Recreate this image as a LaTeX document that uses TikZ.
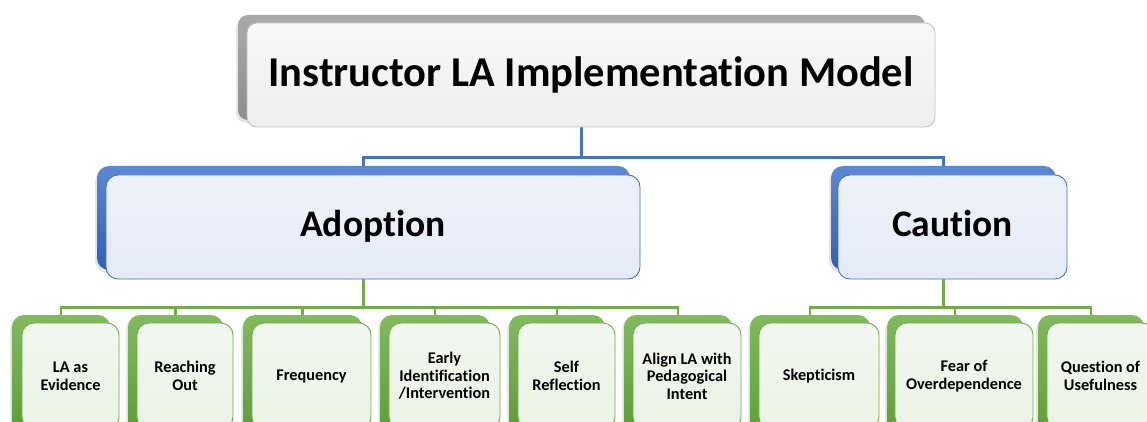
\documentclass[tikz,border=0pt]{standalone}
\usepackage{fontspec}
\setmainfont{Carlito}[Ligatures=NoCommon]
\usetikzlibrary{shadows}
\definecolor{grayBackT}{HTML}{AAAAAA}
\definecolor{grayBackB}{HTML}{8E8E8E}
\definecolor{grayFrontT}{HTML}{F8F8F8}
\definecolor{grayFrontB}{HTML}{EEEEEE}
\definecolor{grayEdge}{HTML}{BEBEBE}
\definecolor{blueBackT}{HTML}{5C87D2}
\definecolor{blueBackB}{HTML}{3060BA}
\definecolor{blueFrontT}{HTML}{EDF1F9}
\definecolor{blueFrontB}{HTML}{E5EBF6}
\definecolor{blueEdge}{HTML}{4472C4}
\definecolor{greenBackT}{HTML}{82BA5E}
\definecolor{greenBackB}{HTML}{5E9C36}
\definecolor{greenFrontT}{HTML}{F2F7EF}
\definecolor{greenFrontB}{HTML}{EAF2E5}
\definecolor{greenEdge}{HTML}{70AD47}
\begin{document}
\begin{tikzpicture}[x=1pt,y=-1pt,
  boxbase/.style={anchor=north west, inner sep=0pt, outer sep=0pt, align=center},
  grayback/.style={boxbase, rounded corners=10pt, top color=grayBackT, bottom color=grayBackB,
    drop shadow={shadow xshift=-2pt, shadow yshift=-3pt, opacity=0.2}},
  grayfront/.style={boxbase, rounded corners=10pt, draw=grayEdge, line width=0.8pt,
    top color=grayFrontT, bottom color=grayFrontB, font=\bfseries\fontsize{42.5}{48}\selectfont},
  blueback/.style={boxbase, rounded corners=12pt, top color=blueBackT, bottom color=blueBackB,
    drop shadow={shadow xshift=-2pt, shadow yshift=-3pt, opacity=0.2}},
  bluefront/.style={boxbase, rounded corners=12pt, draw=blueEdge, line width=0.9pt,
    top color=blueFrontT, bottom color=blueFrontB, font=\bfseries\fontsize{37.5}{42}\selectfont,
    text height=26pt, text depth=7pt},
  greenback/.style={boxbase, rounded corners=12pt, top color=greenBackT, bottom color=greenBackB,
    drop shadow={shadow xshift=-2pt, shadow yshift=-3pt, opacity=0.2}},
  greenfront/.style={boxbase, rounded corners=12pt, draw=greenEdge, line width=0.9pt,
    top color=greenFrontT, bottom color=greenFrontB, font=\bfseries\fontsize{16.3}{17.6}\selectfont},
  blueline/.style={draw=blueEdge, line width=3pt},
  greenline/.style={draw=greenEdge, line width=2.8pt}
]
\useasboundingbox (0,0) rectangle (1147,422);
\clip (0,0) rectangle (1147,422);
\fill[white] (0,0) rectangle (1147,422);

\coordinate (busT) at (0,158);
\coordinate (busA) at (0,307.5);

% back shapes (used as connector anchors)
\node[grayback, minimum width=687pt, minimum height=105pt] (topB) at (238,15) {};
\node[blueback, minimum width=533pt, minimum height=104pt] (adoB) at (97,166) {};
\node[blueback, minimum width=225pt, minimum height=104pt] (cauB) at (831,166) {};
\node[greenback, minimum width=98pt, minimum height=120pt] (b1B) at (12,315) {};
\node[greenback, minimum width=95pt, minimum height=120pt] (b2B) at (128,315) {};
\node[greenback, minimum width=119pt, minimum height=120pt] (b3B) at (243,315) {};
\node[greenback, minimum width=110pt, minimum height=120pt] (b4B) at (380,315) {};
\node[greenback, minimum width=96pt, minimum height=120pt] (b5B) at (509,315) {};
\node[greenback, minimum width=108pt, minimum height=120pt] (b6B) at (624,315) {};
\node[greenback, minimum width=120pt, minimum height=120pt] (b7B) at (750,315) {};
\node[greenback, minimum width=136pt, minimum height=120pt] (b8B) at (887,315) {};
\node[greenback, minimum width=106pt, minimum height=120pt] (b9B) at (1038,315) {};

% connectors
\draw[blueline] (topB.south) -- (topB.south |- busT) -| (adoB.north);
\draw[blueline] (topB.south |- busT) -| (cauB.north);
\foreach \b in {b1B,b2B,b3B,b4B,b5B,b6B}
  \draw[greenline] (adoB.south) -- (adoB.south |- busA) -| (\b.north);
\foreach \b in {b7B,b8B,b9B}
  \draw[greenline] (cauB.south) -- (cauB.south |- busA) -| (\b.north);

% front boxes
\node[grayfront, minimum width=688pt, minimum height=104pt] (top) at (247,23) {Instructor LA Implementation Model};
\node[bluefront, minimum width=534pt, minimum height=104pt] (ado) at (106,175) {Adoption};
\node[bluefront, minimum width=229pt, minimum height=104pt] (cau) at (838,175) {Caution};
\node[greenfront, minimum width=97pt, minimum height=106pt] (b1) at (22,323) {LA as\\Evidence};
\node[greenfront, minimum width=96pt, minimum height=106pt] (b2) at (137,323) {Reaching\\Out};
\node[greenfront, minimum width=119pt, minimum height=106pt] (b3) at (252,323) {Frequency};
\node[greenfront, minimum width=111pt, minimum height=106pt] (b4) at (389,323) {Early\\Identification\\/Intervention};
\node[greenfront, minimum width=97pt, minimum height=106pt] (b5) at (518,323) {Self\\Reflection};
\node[greenfront, minimum width=108pt, minimum height=106pt] (b6) at (633,323) {Align LA with\\Pedagogical\\Intent};
\node[greenfront, minimum width=120pt, minimum height=106pt] (b7) at (759,323) {Skepticism};
\node[greenfront, minimum width=138pt, minimum height=106pt] (b8) at (895,323) {Fear of\\Overdependence};
\node[greenfront, minimum width=107pt, minimum height=106pt] (b9) at (1047,323) {Question of\\Usefulness};
\end{tikzpicture}
\end{document}
